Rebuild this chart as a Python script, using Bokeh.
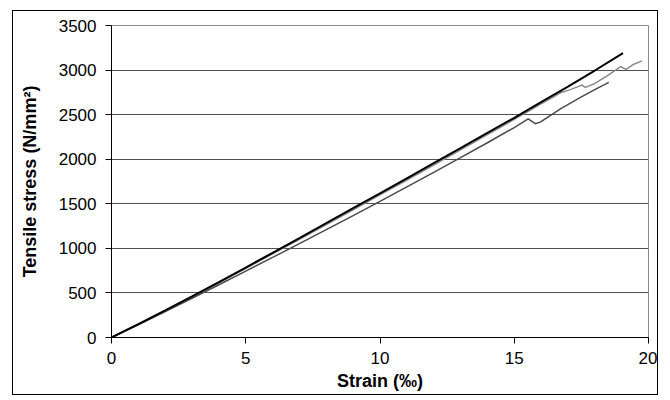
from bokeh.plotting import figure
from bokeh.models import SingleIntervalTicker, Range1d
from bokeh.embed import file_html
from bokeh.resources import INLINE

# Specimen curves (strain in ‰, stress in N/mm²)
strain_a = [0, 1, 2, 3, 4, 5, 6, 7, 8, 9, 10, 11, 12, 13, 14, 15, 16, 17, 18, 19.05]
stress_a = [0, 150, 305, 462, 622, 785, 950, 1115, 1282, 1450, 1618, 1786, 1955, 2125,
            2295, 2465, 2640, 2815, 2995, 3190]

strain_b = [0, 1, 2, 3, 4, 5, 6, 7, 8, 9, 10, 11, 12, 13, 14, 15, 16, 16.5, 16.72, 17.09,
            17.4, 17.52, 17.65, 17.96, 18.46, 18.83, 18.96, 19.08, 19.18, 19.45, 19.76]
stress_b = [0, 148, 300, 455, 614, 775, 938, 1102, 1267, 1433, 1600, 1767, 1935, 2105,
            2275, 2447, 2620, 2705, 2745, 2781, 2817, 2832, 2806, 2843, 2936, 3010, 3040,
            3018, 3010, 3066, 3103]

strain_c = [0, 1, 2, 3, 4, 5, 6, 7, 8, 9, 10, 11, 12, 13, 14, 15, 15.52, 15.78, 15.97,
            16.72, 17.5, 18.0, 18.52]
stress_c = [0, 143, 290, 440, 592, 745, 898, 1053, 1210, 1368, 1528, 1690, 1853, 2018,
            2185, 2355, 2453, 2398, 2416, 2565, 2700, 2780, 2862]

x_label = "Strain (‰)"
y_label = "Tensile stress (N/mm²)"

FONT = "Liberation Sans"

p = figure(width=646, height=385, output_backend="svg", toolbar_location=None,
           x_range=Range1d(0, 20), y_range=Range1d(0, 3500),
           min_border_left=98, min_border_right=11, min_border_top=14,
           min_border_bottom=59)
p.styles = {"border": "1px solid black", "margin-left": "12px", "margin-top": "10px"}

p.line(strain_b, stress_b, line_color="#8a8a8a", line_width=1.5)
p.line(strain_c, stress_c, line_color="#4a4a4a", line_width=1.5)
p.line(strain_a, stress_a, line_color="black", line_width=2)

p.outline_line_color = "#8c8c8c"
p.outline_line_width = 1

p.xgrid.visible = False
p.ygrid.grid_line_color = "#505050"
p.ygrid.grid_line_width = 1

p.xaxis.ticker = SingleIntervalTicker(interval=5, num_minor_ticks=0)
p.yaxis.ticker = SingleIntervalTicker(interval=500, num_minor_ticks=0)

for ax in (p.xaxis[0], p.yaxis[0]):
    ax.axis_line_color = "black"
    ax.major_tick_line_color = "black"
    ax.major_tick_in = 0
    ax.major_tick_out = 6
    ax.minor_tick_line_color = None
    ax.major_label_text_font = FONT
    ax.major_label_text_font_size = "17px"
    ax.major_label_text_color = "black"
    ax.axis_label_text_font = FONT
    ax.axis_label_text_font_size = "18px"
    ax.axis_label_text_font_style = "bold"
    ax.axis_label_text_color = "black"

p.xaxis.axis_label = x_label
p.yaxis.axis_label = y_label
p.xaxis.major_label_standoff = 8
p.yaxis.major_label_standoff = 9
p.xaxis.axis_label_standoff = 4
p.yaxis.axis_label_standoff = 16

open("out.html", "w").write(file_html(p, INLINE))
